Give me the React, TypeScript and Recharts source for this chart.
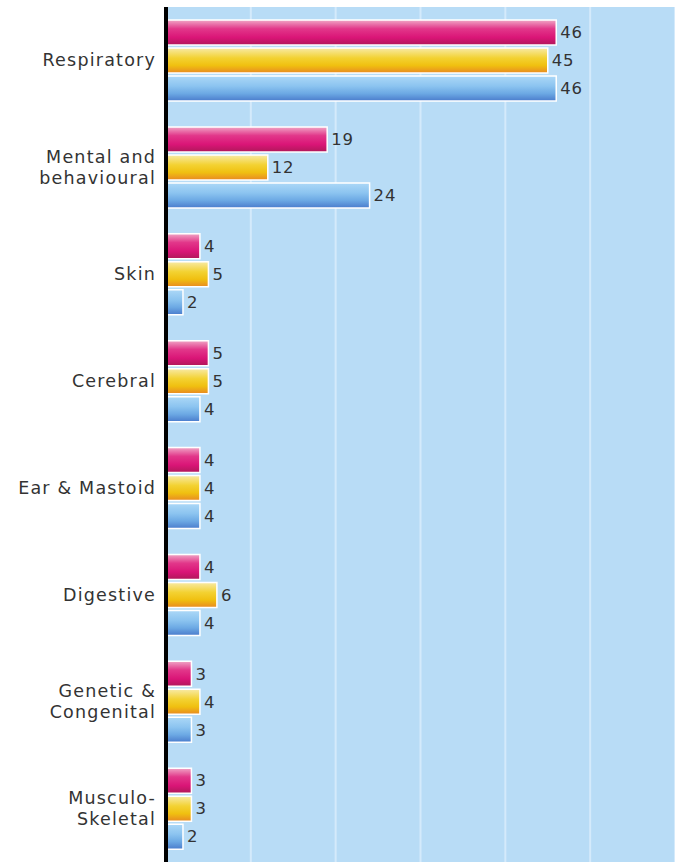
import { BarChart, Bar, XAxis, YAxis, CartesianGrid, ReferenceLine, LabelList } from "recharts";

const categories = [
    "Respiratory",
    "Mental and\nbehavioural",
    "Skin",
    "Cerebral",
    "Ear & Mastoid",
    "Digestive",
    "Genetic &\nCongenital",
    "Musculo-\nSkeletal",
];
const pinkValues = [46, 19, 4, 5, 4, 4, 3, 3];
const yellowValues = [45, 12, 5, 5, 4, 6, 4, 3];
const blueValues = [46, 24, 2, 4, 4, 4, 3, 2];
const xTicks = [0, 10, 20, 30, 40, 50, 60];

const data = categories.map((c, i) => ({
    category: c,
    pink: pinkValues[i],
    yellow: yellowValues[i],
    blue: blueValues[i],
}));

const FONT = "'DejaVu Sans', sans-serif";

function CategoryTick(props: any) {
    const { x, y, payload } = props;
    const lines = String(payload.value).split("\n");
    const lineH = 21;
    const startY = y - ((lines.length - 1) * lineH) / 2;
    return (
        <text
            x={x - 2}
            y={startY}
            textAnchor="end"
            fill="#333"
            fontSize={17.5}
            letterSpacing={1.2}
            fontFamily={FONT}
            dominantBaseline="central"
        >
            {lines.map((l, i) => (
                <tspan key={i} x={x - 2} y={startY + i * lineH}>
                    {l}
                </tspan>
            ))}
        </text>
    );
}

const labelStyle = { fill: "#333", fontSize: 16.5, fontFamily: FONT, letterSpacing: 0.8 };

export default function App() {
    return (
        <div style={{ position: "absolute", top: 0, left: 0, width: 675, height: 862, overflow: "hidden", background: "#fff" }}>
            <BarChart
                width={675}
                height={862}
                data={data}
                layout="vertical"
                margin={{ top: 7, right: 0, left: 0, bottom: 0 }}
                barSize={25}
                barGap={3}
            >
                <defs>
                    <linearGradient id="gPink" x1="0" y1="0" x2="0" y2="1">
                        <stop offset="0%" stopColor="#f0a6c6" />
                        <stop offset="35%" stopColor="#e2378a" />
                        <stop offset="70%" stopColor="#da1577" />
                        <stop offset="100%" stopColor="#b0185a" />
                    </linearGradient>
                    <linearGradient id="gYellow" x1="0" y1="0" x2="0" y2="1">
                        <stop offset="0%" stopColor="#f8eaa6" />
                        <stop offset="40%" stopColor="#f3d232" />
                        <stop offset="70%" stopColor="#f0c010" />
                        <stop offset="100%" stopColor="#e88a22" />
                    </linearGradient>
                    <linearGradient id="gBlue" x1="0" y1="0" x2="0" y2="1">
                        <stop offset="0%" stopColor="#acd8f7" />
                        <stop offset="40%" stopColor="#8cc4f0" />
                        <stop offset="70%" stopColor="#6ca9e4" />
                        <stop offset="100%" stopColor="#4a7ccc" />
                    </linearGradient>
                </defs>
                <CartesianGrid
                    horizontal={false}
                    fill="#b8dcf6"
                    fillOpacity={1}
                    stroke="#d4eafb"
                    strokeWidth={2}
                />
                <XAxis type="number" domain={[0, 60]} ticks={xTicks} hide />
                <YAxis
                    type="category"
                    dataKey="category"
                    width={166}
                    axisLine={false}
                    tickLine={false}
                    tick={<CategoryTick />}
                    interval={0}
                />
                <Bar dataKey="pink" fill="url(#gPink)" stroke="#fff" strokeWidth={1.5} isAnimationActive={false}>
                    <LabelList dataKey="pink" position="right" offset={4} style={labelStyle} />
                </Bar>
                <Bar dataKey="yellow" fill="url(#gYellow)" stroke="#fff" strokeWidth={1.5} isAnimationActive={false}>
                    <LabelList dataKey="yellow" position="right" offset={4} style={labelStyle} />
                </Bar>
                <Bar dataKey="blue" fill="url(#gBlue)" stroke="#fff" strokeWidth={1.5} isAnimationActive={false}>
                    <LabelList dataKey="blue" position="right" offset={4} style={labelStyle} />
                </Bar>
                <ReferenceLine x={0} stroke="#000" strokeWidth={4} />
            </BarChart>
        </div>
    );
}
